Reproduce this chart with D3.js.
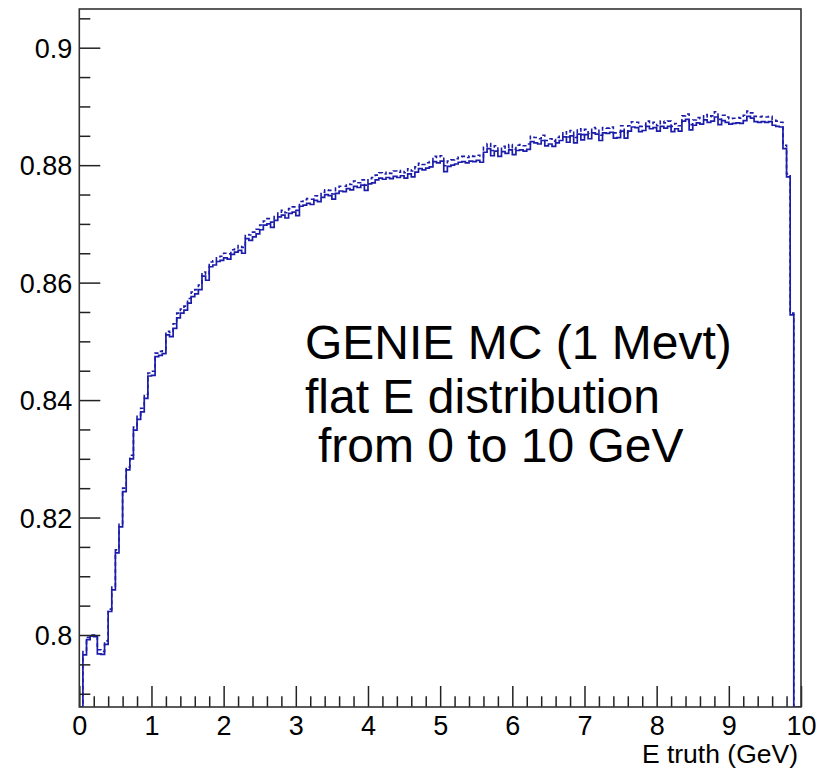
<!DOCTYPE html>
<html>
<head>
<meta charset="utf-8">
<script src="https://cdn.jsdelivr.net/npm/d3@7"></script>
<style>
  html, body { margin: 0; padding: 0; background: #ffffff; }
  svg { display: block; }
  text { font-family: "Liberation Sans", Arial, Helvetica, sans-serif; fill: #000; }
</style>
</head>
<body>
<svg id="chart" width="827" height="769"></svg>
<script>
// ---------------- DATA ----------------
const xRange = [0, 10];
const binWidth = 0.05;   // 200 bins from 0 to 10 GeV
const yRange = [0.78774, 0.90659];

// solid histogram (bin contents, bins of 0.05 GeV starting at 0)
const solidValues = [
  0, 0.7966, 0.7992, 0.7998, 0.7997, 0.7968, 0.7967, 0.7984, 0.8040, 0.8077,
  0.8140, 0.8184, 0.8244, 0.8281, 0.8300, 0.8349, 0.8367, 0.8380, 0.8403, 0.8441,
  0.8442, 0.8474, 0.8476, 0.8479, 0.8511, 0.8508, 0.8522, 0.8540, 0.8548, 0.8553,
  0.8565, 0.8576, 0.8581, 0.8588, 0.8611, 0.8604, 0.8627, 0.8630, 0.8636, 0.8638,
  0.8642, 0.8640, 0.8648, 0.8652, 0.8655, 0.8650, 0.8675, 0.8672, 0.8678, 0.8683,
  0.8690, 0.8698, 0.8700, 0.8694, 0.8706, 0.8712, 0.8715, 0.8710, 0.8718, 0.8720,
  0.8714, 0.8730, 0.8732, 0.8735, 0.8733, 0.8740, 0.8738, 0.8745, 0.8750, 0.8748,
  0.8742, 0.8752, 0.8756, 0.8755, 0.8760, 0.8758, 0.8764, 0.8762, 0.8766, 0.8757,
  0.8768, 0.8770, 0.8775, 0.8778, 0.8776, 0.8779, 0.8777, 0.8781, 0.8779, 0.8782,
  0.8778, 0.8785, 0.8780, 0.8788, 0.8794, 0.8792, 0.8795, 0.8797, 0.8806, 0.8804,
  0.8807, 0.8789, 0.8798, 0.8800, 0.8802, 0.8805, 0.8806, 0.8804, 0.8807, 0.8806,
  0.8808, 0.8805, 0.8822, 0.8828, 0.8816, 0.8824, 0.8815, 0.8823, 0.8820, 0.8826,
  0.8818, 0.8825, 0.8826, 0.8824, 0.8827, 0.8840, 0.8838, 0.8836, 0.8842, 0.8833,
  0.8836, 0.8832, 0.8838, 0.8842, 0.8848, 0.8839, 0.8850, 0.8838, 0.8853, 0.8843,
  0.8852, 0.8845, 0.8855, 0.8853, 0.8842, 0.8855, 0.8854, 0.8856, 0.8846, 0.8847,
  0.8858, 0.8846, 0.8858, 0.8865, 0.8864, 0.8857, 0.8859, 0.8866, 0.8862, 0.8864,
  0.8858, 0.8866, 0.8863, 0.8866, 0.8857, 0.8862, 0.8858, 0.8875, 0.8878, 0.8860,
  0.8868, 0.8872, 0.8870, 0.8877, 0.8873, 0.8875, 0.8882, 0.8869, 0.8876, 0.8873,
  0.8870, 0.8871, 0.8872, 0.8871, 0.8876, 0.8883, 0.8880, 0.8874, 0.8873, 0.8874,
  0.8873, 0.8874, 0.8868, 0.8866, 0.8865, 0.8828, 0.8780, 0.8545, 0, 0
];

// dashed histogram
const dashedValues = [
  0, 0.7972, 0.7996, 0.8000, 0.8000, 0.7975, 0.7972, 0.7990, 0.8044, 0.8083,
  0.8145, 0.8190, 0.8250, 0.8286, 0.8306, 0.8354, 0.8374, 0.8386, 0.8410, 0.8446,
  0.8449, 0.8480, 0.8483, 0.8486, 0.8517, 0.8515, 0.8530, 0.8548, 0.8555, 0.8560,
  0.8573, 0.8584, 0.8588, 0.8596, 0.8618, 0.8614, 0.8635, 0.8637, 0.8644, 0.8645,
  0.8650, 0.8649, 0.8656, 0.8659, 0.8663, 0.8660, 0.8682, 0.8681, 0.8686, 0.8691,
  0.8698, 0.8705, 0.8709, 0.8703, 0.8714, 0.8720, 0.8723, 0.8719, 0.8726, 0.8729,
  0.8723, 0.8738, 0.8741, 0.8743, 0.8742, 0.8748, 0.8747, 0.8754, 0.8758, 0.8757,
  0.8751, 0.8761, 0.8764, 0.8764, 0.8768, 0.8767, 0.8773, 0.8770, 0.8775, 0.8766,
  0.8777, 0.8779, 0.8783, 0.8787, 0.8785, 0.8788, 0.8786, 0.8790, 0.8788, 0.8791,
  0.8787, 0.8794, 0.8790, 0.8797, 0.8803, 0.8801, 0.8804, 0.8806, 0.8815, 0.8813,
  0.8816, 0.8799, 0.8807, 0.8809, 0.8811, 0.8814, 0.8815, 0.8813, 0.8816, 0.8815,
  0.8817, 0.8814, 0.8831, 0.8837, 0.8825, 0.8833, 0.8824, 0.8832, 0.8829, 0.8835,
  0.8827, 0.8834, 0.8835, 0.8833, 0.8836, 0.8849, 0.8847, 0.8845, 0.8851, 0.8842,
  0.8845, 0.8841, 0.8847, 0.8851, 0.8857, 0.8848, 0.8859, 0.8847, 0.8862, 0.8852,
  0.8861, 0.8854, 0.8864, 0.8862, 0.8851, 0.8864, 0.8863, 0.8865, 0.8855, 0.8856,
  0.8867, 0.8855, 0.8867, 0.8874, 0.8873, 0.8866, 0.8868, 0.8875, 0.8871, 0.8873,
  0.8867, 0.8875, 0.8872, 0.8875, 0.8866, 0.8871, 0.8867, 0.8884, 0.8887, 0.8869,
  0.8877, 0.8881, 0.8879, 0.8886, 0.8882, 0.8884, 0.8891, 0.8878, 0.8885, 0.8882,
  0.8879, 0.8880, 0.8881, 0.8880, 0.8885, 0.8892, 0.8889, 0.8883, 0.8882, 0.8883,
  0.8882, 0.8883, 0.8877, 0.8875, 0.8873, 0.8834, 0.8785, 0.8548, 0, 0
];

const xTickValues = [0, 1, 2, 3, 4, 5, 6, 7, 8, 9, 10];
const xTickLabels = ["0", "1", "2", "3", "4", "5", "6", "7", "8", "9", "10"];
const yTickValues = [0.8, 0.82, 0.84, 0.86, 0.88, 0.9];
const yTickLabels = ["0.8", "0.82", "0.84", "0.86", "0.88", "0.9"];
const xTitle = "E truth (GeV)";
const noteLines = ["GENIE MC (1 Mevt)", "flat E distribution", "from 0 to 10 GeV"];

// ---------------- LAYOUT ----------------
const frame = { left: 79.3, right: 801, top: 9, bottom: 707 };
const svg = d3.select("#chart");

const x = d3.scaleLinear().domain(xRange).range([frame.left, frame.right]);
const y = d3.scaleLinear().domain(yRange).range([frame.bottom, frame.top]);

svg.append("defs").append("clipPath").attr("id", "clip")
  .append("rect")
  .attr("x", frame.left).attr("y", frame.top)
  .attr("width", frame.right - frame.left).attr("height", frame.bottom - frame.top);

function histPath(vals) {
  const clampV = v => Math.max(yRange[0], Math.min(yRange[1], v));
  let p = `M${x(0)},${y(yRange[0])}V${y(clampV(vals[0]))}`;
  vals.forEach((v, i) => {
    p += `H${x((i + 1) * binWidth)}`;
    if (i + 1 < vals.length) p += `V${y(clampV(vals[i + 1]))}`;
  });
  p += `V${y(yRange[0])}`;
  return p;
}

const lineColor = "#1c1cab";
const plot = svg.append("g").attr("clip-path", "url(#clip)");
plot.append("path")
  .attr("d", histPath(dashedValues))
  .attr("fill", "none").attr("stroke", lineColor)
  .attr("stroke-width", 1.6)
  .attr("stroke-dasharray", "4,3");
plot.append("path")
  .attr("d", histPath(solidValues))
  .attr("fill", "none").attr("stroke", lineColor)
  .attr("stroke-width", 1.7);

// ---------------- AXES ----------------
const tickColor = "#222";
const fontSize = 27;

// y minor
const yMinor = d3.range(0, 24).map(i => 0.79 + i * 0.005)
  .filter(v => v <= yRange[1] && !yTickValues.some(t => Math.abs(t - v) < 1e-6));
const yMinorAxis = d3.axisLeft(y).tickValues(yMinor).tickSize(-11).tickFormat("");
const gYm = svg.append("g").attr("transform", `translate(${frame.left},0)`).call(yMinorAxis);
gYm.select(".domain").remove();

const yAxis = d3.axisLeft(y).tickValues(yTickValues).tickSize(-21).tickPadding(7)
  .tickFormat((d, i) => yTickLabels[i]);
const gY = svg.append("g").attr("transform", `translate(${frame.left},0)`).call(yAxis);
gY.select(".domain").remove();
gY.selectAll("text").attr("font-size", fontSize)
  .attr("font-family", '"Liberation Sans", Arial, Helvetica, sans-serif')
  .attr("dy", "0.36em").attr("fill", "#000");

// x minor
const xMinor = d3.range(0, 51).map(i => i * 0.2)
  .filter(v => Math.abs(v - Math.round(v)) > 1e-6);
const xMinorAxis = d3.axisBottom(x).tickValues(xMinor).tickSize(-10.7).tickFormat("");
const gXm = svg.append("g").attr("transform", `translate(0,${frame.bottom})`).call(xMinorAxis);
gXm.select(".domain").remove();

const xAxis = d3.axisBottom(x).tickValues(xTickValues).tickSize(-21).tickPadding(9)
  .tickFormat((d, i) => xTickLabels[i]);
const gX = svg.append("g").attr("transform", `translate(0,${frame.bottom})`).call(xAxis);
gX.select(".domain").remove();
gX.selectAll("text").attr("font-size", fontSize)
  .attr("font-family", '"Liberation Sans", Arial, Helvetica, sans-serif')
  .attr("dy", "0.71em").attr("fill", "#000");

svg.selectAll(".tick line").attr("stroke", tickColor).attr("stroke-width", 1.5);

// frame
svg.append("rect")
  .attr("x", frame.left).attr("y", frame.top)
  .attr("width", frame.right - frame.left).attr("height", frame.bottom - frame.top)
  .attr("fill", "none").attr("stroke", "#333").attr("stroke-width", 1.6);

// axis title
svg.append("text")
  .attr("x", 798).attr("y", 763)
  .attr("text-anchor", "end")
  .attr("font-size", 26.5)
  .text(xTitle);

// annotation
const noteX = [305, 305, 318];
const noteY = [359, 413, 462];
noteLines.forEach((t, i) => {
  svg.append("text")
    .attr("x", noteX[i]).attr("y", noteY[i])
    .attr("font-size", 48)
    .text(t);
});
</script>
</body>
</html>
